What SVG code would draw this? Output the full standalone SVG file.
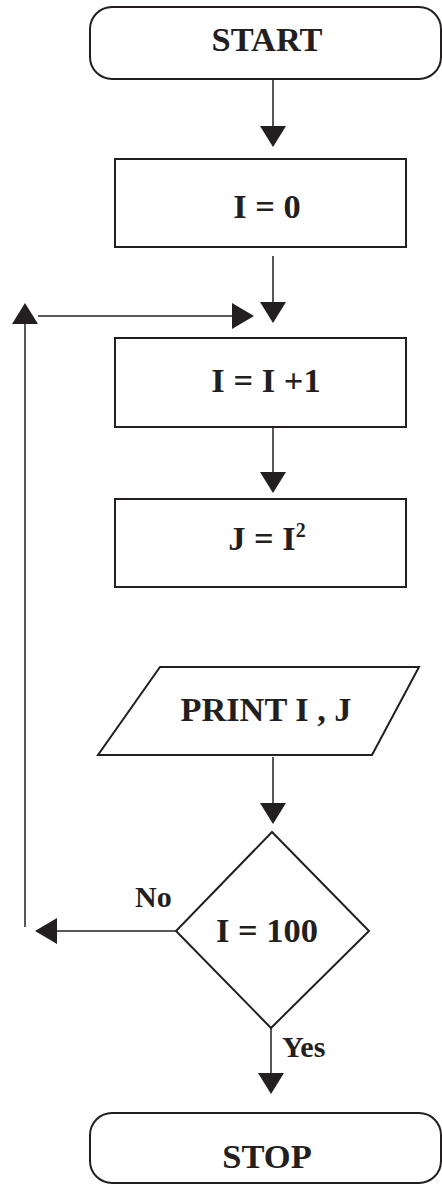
<svg xmlns="http://www.w3.org/2000/svg" width="442" height="1184" viewBox="0 0 442 1184">
<defs>
<style>
.shape{fill:#fff;stroke:#231f20;stroke-width:2}
.line{fill:none;stroke:#231f20;stroke-width:1.5}
.head{fill:#231f20;stroke:none}
text{font-family:"Liberation Serif","Times New Roman",serif;font-weight:bold;fill:#231f20}
.t{font-size:34.5px;text-anchor:middle}
.l{font-size:30px}
</style>
</defs>
<rect width="442" height="1184" fill="#fff"/>
<g id="start">
<rect class="shape" x="90" y="7" width="351" height="72" rx="22"/>
<text class="t" x="267" y="51" textLength="111" lengthAdjust="spacingAndGlyphs">START</text>
</g>
<g id="init">
<rect class="shape" x="115" y="159" width="291" height="88"/>
<text class="t" x="267" y="218">I = 0</text>
</g>
<g id="incr">
<rect class="shape" x="115" y="338" width="291" height="89"/>
<text class="t" x="266" y="392">I = I +1</text>
</g>
<g id="square">
<rect class="shape" x="115" y="499" width="291" height="88"/>
<text class="t" x="267" y="550">J = I<tspan font-size="20" dy="-13">2</tspan></text>
</g>
<g id="print">
<polygon class="shape" points="160,667 419,667 372,755 98,755"/>
<text class="t" x="266" y="721" textLength="171" lengthAdjust="spacingAndGlyphs">PRINT I , J</text>
</g>
<g id="decision">
<polygon class="shape" points="272,832 369,931 271,1028 176,931"/>
<text class="t" x="267" y="942">I = 100</text>
</g>
<g id="stop">
<rect class="shape" x="90" y="1113" width="351" height="70" rx="22"/>
<text class="t" x="267" y="1168">STOP</text>
</g>
<g id="connectors">
<line class="line" x1="273" y1="79" x2="273" y2="127"/>
<polygon class="head" points="260,126 286,126 273,147"/>
<line class="line" x1="273" y1="256" x2="273" y2="303"/>
<polygon class="head" points="260,302 286,302 273,323"/>
<line class="line" x1="273" y1="427" x2="273" y2="473"/>
<polygon class="head" points="260,472 286,472 273,493"/>
<line class="line" x1="273" y1="757" x2="273" y2="804"/>
<polygon class="head" points="260,803 286,803 273,824"/>
<line class="line" x1="271" y1="1028" x2="271" y2="1074"/>
<polygon class="head" points="258,1073 284,1073 271,1094"/>
<line class="line" x1="176" y1="931" x2="56" y2="931"/>
<polygon class="head" points="57,918 57,944 35,931"/>
<line class="line" x1="25" y1="927" x2="25" y2="323"/>
<polygon class="head" points="12,324 38,324 25,303"/>
<line class="line" x1="38" y1="316" x2="233" y2="316"/>
<polygon class="head" points="232,303 232,329 254,316"/>
<text class="l" x="135" y="907">No</text>
<text class="l" x="282" y="1057">Yes</text>
</g>
</svg>
